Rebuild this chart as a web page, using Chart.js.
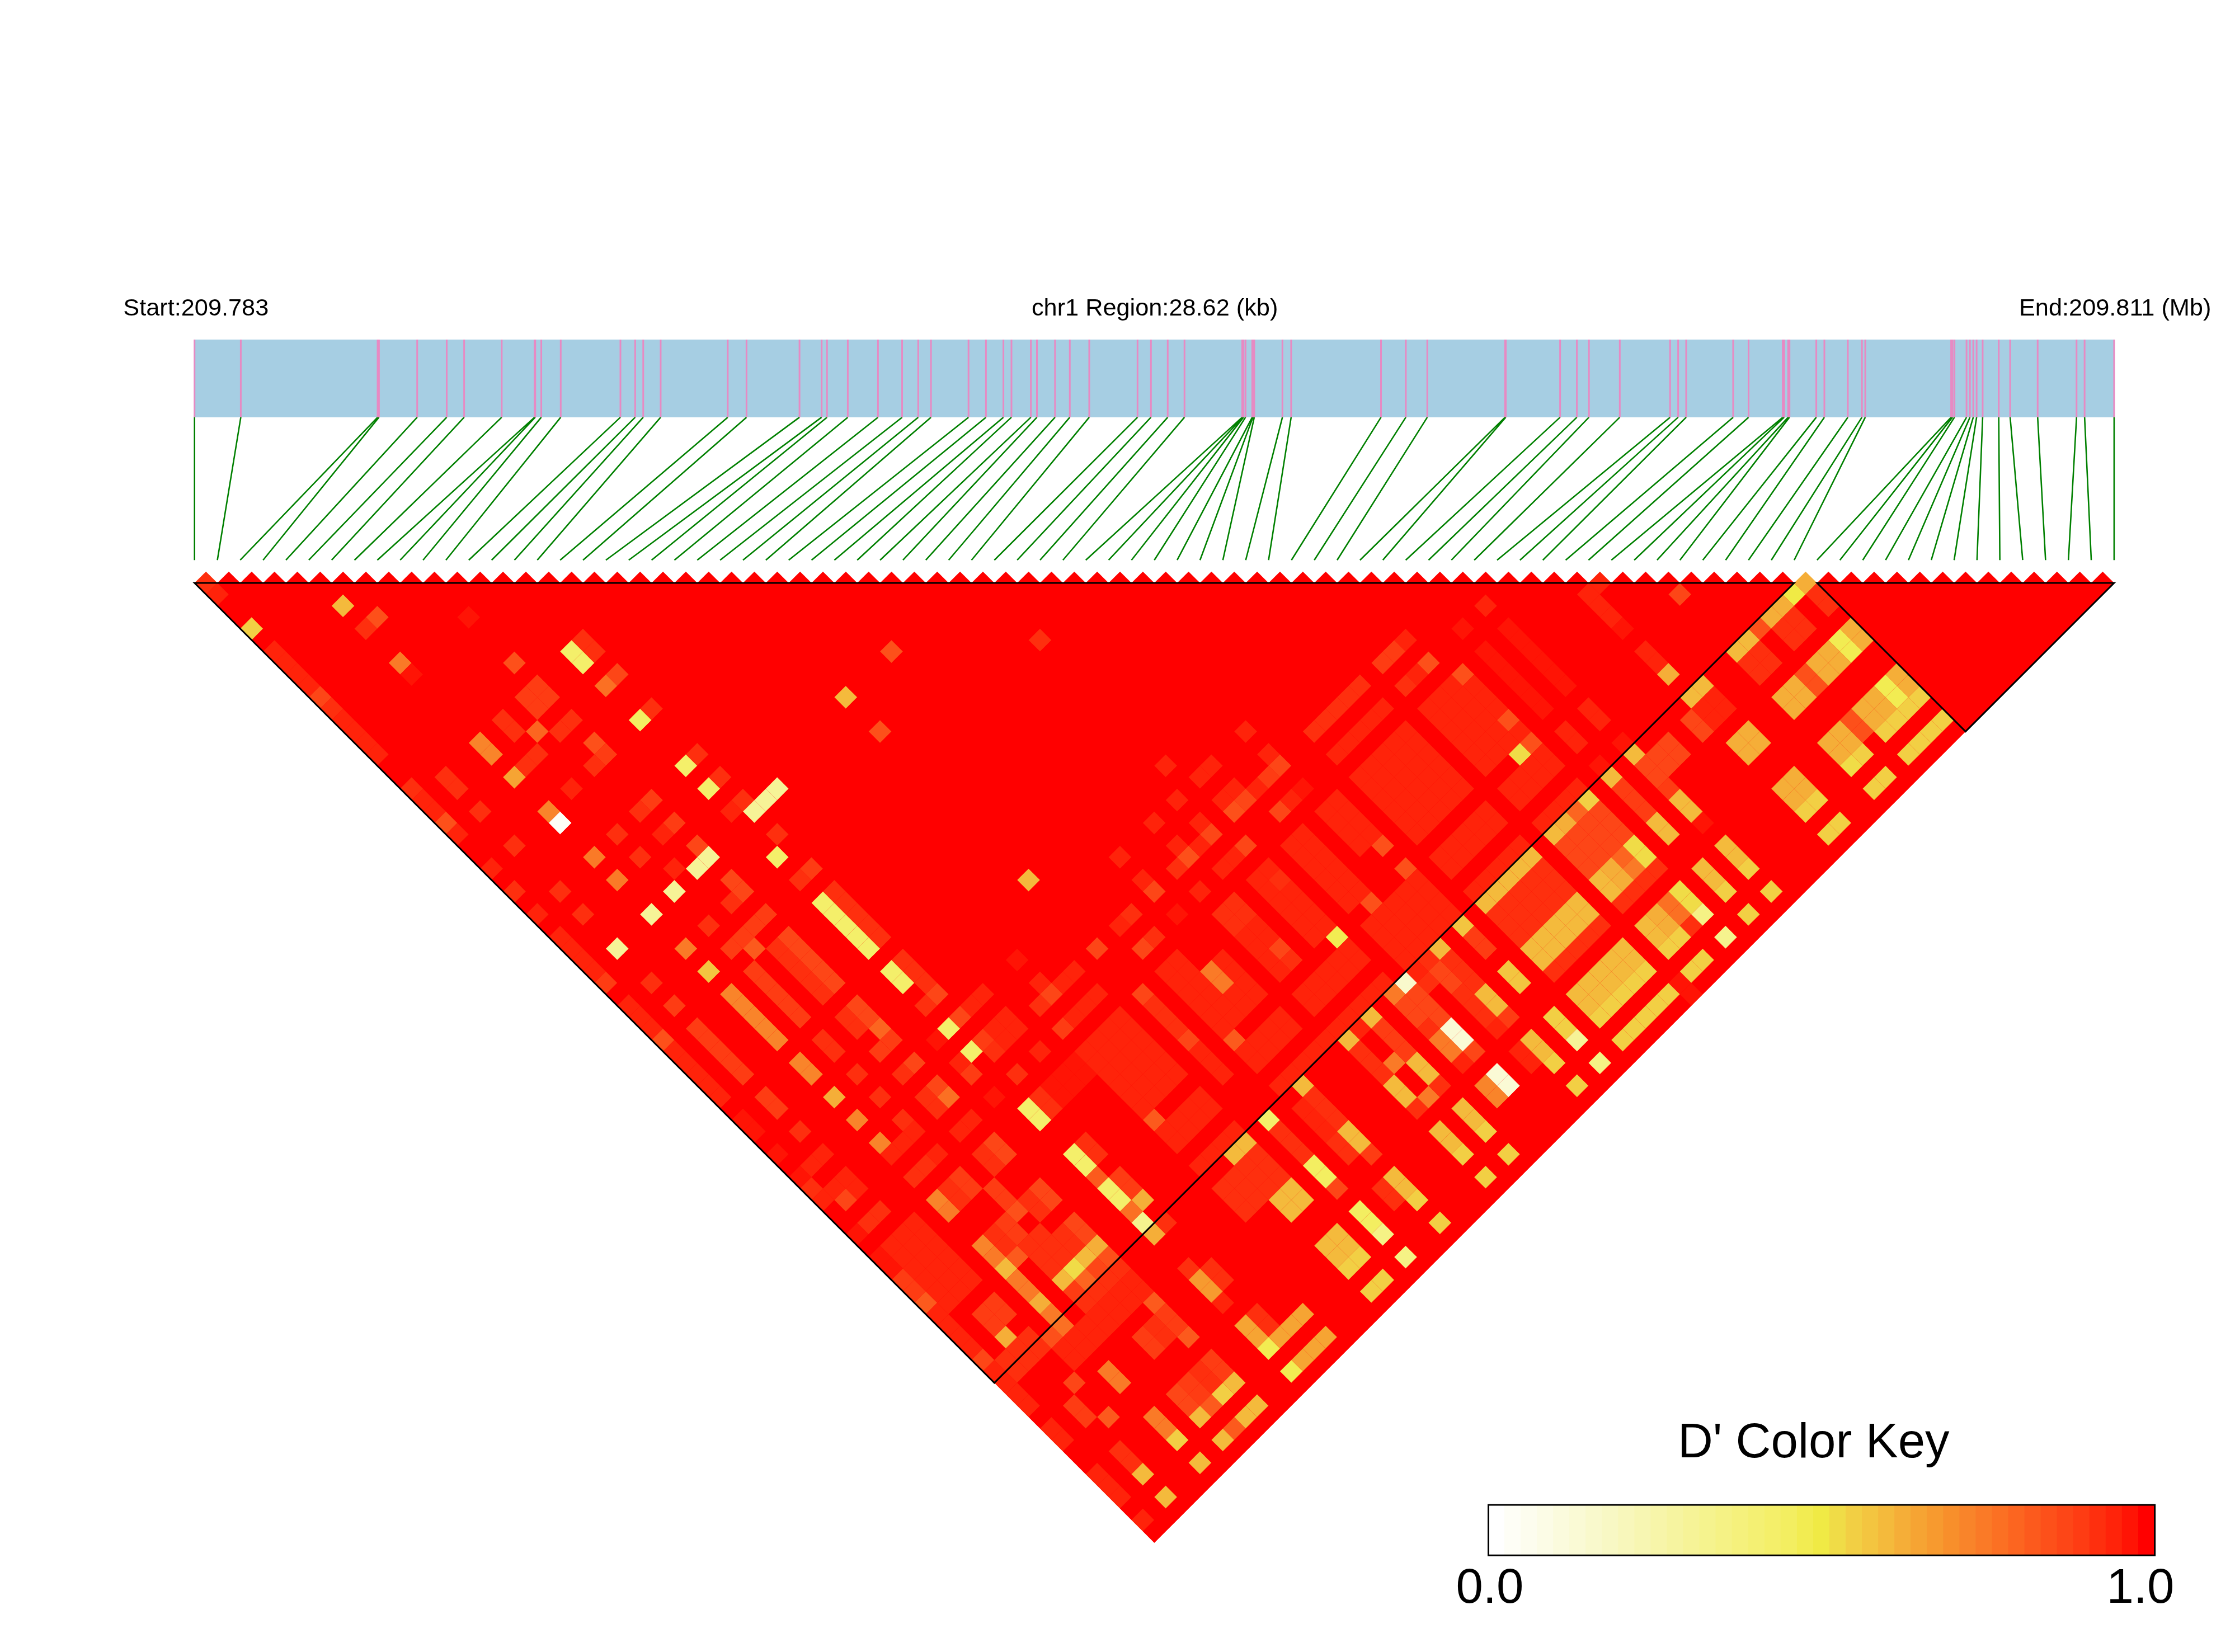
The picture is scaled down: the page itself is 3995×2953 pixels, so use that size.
<!DOCTYPE html>
<html>
<head>
<meta charset="utf-8">
<title>D' heatmap chr1</title>
<style>
  html, body { margin: 0; padding: 0; background: #ffffff; }
  canvas { display: block; }
</style>
<script src="https://cdn.jsdelivr.net/npm/chart.js@4/dist/chart.umd.min.js"></script>
</head>
<body>
<canvas id="ld-chart" width="3995" height="2953"></canvas>
<script>
const regionKb = 28.62;

// SNP positions along the region, kb from the start
const snpPositionsKb = [
  0, 0.69, 2.73, 2.75, 3.32, 3.76, 4.02, 4.58, 5.07, 5.08, 5.17, 5.46, 6.35, 6.57, 6.69, 6.95, 7.95,
  8.23, 9.02, 9.35, 9.43, 9.74, 10.19, 10.55, 10.79, 10.98, 11.54, 11.8, 12.06, 12.18, 12.47, 12.56,
  12.83, 13.05, 13.34, 14.06, 14.26, 14.51, 14.76, 15.62, 15.63, 15.64, 15.67, 15.77, 15.78, 15.8,
  16.22, 16.35, 17.69, 18.06, 18.38, 19.54, 19.55, 20.36, 20.61, 20.79, 21.25, 22, 22.12, 22.24,
  22.94, 23.17, 23.68, 23.7, 23.76, 23.78, 24.18, 24.3, 24.65, 24.86, 24.91, 26.19, 26.21,
  26.24, 26.42, 26.47, 26.52, 26.57, 26.66, 26.9, 27.07, 27.48, 28.06, 28.18, 28.62,
];

const keyColors = [
  "#ffffff", "#fefef6", "#fdfdee", "#fcfce6", "#fbfbdd", "#fafad5", "#f9f9cc", "#f8f8c4", "#f8f7bb",
  "#f7f6b2", "#f7f5a9", "#f6f4a0", "#f6f397", "#f5f38e", "#f5f285", "#f5f17c", "#f4f073", "#f4ef6a",
  "#f3ee61", "#f2ec52", "#f0ea45", "#f0dc47", "#f2cf44", "#f3c540", "#f4ba3c", "#f5ae38", "#f6a433",
  "#f79a2f", "#f88f2b", "#f9842a", "#fa7a27", "#fb7023", "#fc6520", "#fc5a1d", "#fd501a", "#fd4617",
  "#fe3c13", "#fe2f0e", "#ff230a", "#ff1405", "#ff0000",
];

// LD blocks as [first SNP, last SNP]
const ldBlocks = [[0, 70], [71, 84]];

// D' below 1, as [a from, a to, b from, b to, D'] for SNP pairs a < b; every other pair is 1
const firstColumn = [
  [0,0,1,1,.93],[0,0,2,2,.96],[0,0,5,5,.55],[0,0,7,7,.95],[0,0,8,10,.96],[0,0,11,11,.88],[0,0,12,12,.93],
  [0,0,13,16,.96],[0,0,19,19,.93],[0,0,20,21,.96],[0,0,22,22,.85],[0,0,23,23,.96],[0,0,26,26,.96],
  [0,0,28,28,.93],[0,0,30,30,.96],[0,0,32,35,.96],[0,0,36,36,.9],[0,0,38,38,.96],[0,0,39,39,.94],
  [0,0,40,40,.96],[0,0,41,41,.85],[0,0,42,46,.96],[0,0,48,49,.97],[0,0,51,51,.97],[0,0,53,53,.97],
  [0,0,54,54,.92],[0,0,55,55,.96],[0,0,58,58,.97],[0,0,60,61,.97],[0,0,62,63,.9],[0,0,64,64,.83],
  [0,0,65,68,.96],[0,0,69,69,.88],[0,0,70,73,.95],[0,0,75,76,.95],[0,0,79,81,.95],[0,0,83,83,.95],
];

const leftPatches = [
  [5,5,8,8,.6],[6,6,10,10,.85],[5,5,10,10,.93],[10,10,14,14,.98],[5,5,13,13,.75],[5,5,14,14,.98],
  [10,10,18,18,.85],[13,13,20,21,.42],[14,14,20,21,.93],[14,14,23,23,.88],[13,13,23,23,.78],
  [9,10,20,21,.91],[14,14,26,26,.93],[13,13,26,26,.45],[7,7,20,21,.93],[8,8,22,22,.8],[9,10,23,23,.93],
  [10,10,25,25,.85],[10,10,26,26,.9],[9,9,26,26,.93],[5,5,20,21,.73],[7,7,23,23,.93],[6,6,23,23,.93],
  [5,5,23,23,.65],[14,14,30,30,.93],[13,13,30,30,.42],[14,14,32,32,.93],[13,13,32,32,.42],
  [2,2,20,21,.93],[7,7,26,26,.94],[2,2,23,23,.93],[5,5,26,26,.73],[5,5,27,27,.03],[10,10,30,30,.9],
  [9,9,30,30,.93],[10,10,32,32,.9],[9,9,32,32,.95],[14,14,34,34,.93],[13,13,34,34,.96],[14,16,35,35,.3],
  [7,7,30,30,.93],[14,14,37,37,.93],[13,13,38,38,.42],[2,2,26,26,.92],[5,5,30,30,.75],[7,7,32,32,.93],
  [10,10,34,34,.87],[9,10,35,35,.3],[8,8,34,34,.96],[5,5,32,32,.75],[10,10,37,38,.88],[9,9,38,38,.93],
  [7,7,35,35,.3],[2,2,30,30,.93],[2,2,32,32,.93],[5,5,35,35,.3],[7,7,38,38,.93],[7,10,40,40,.9],
  [9,9,42,42,.93],[8,8,41,41,.83],[2,2,35,35,.3],[5,5,38,38,.75],[5,5,40,40,.58],[2,2,38,38,.93],
  [2,2,40,40,.9],[5,5,42,46,.73],[7,7,42,46,.9],[2,2,42,46,.9],[9,9,42,46,.92],[10,10,42,46,.87],
  [13,13,42,46,.42],[14,14,42,46,.93],[13,13,48,49,.42],[14,14,48,50,.93],[14,14,51,51,.88],
  [13,13,51,51,.93],[14,14,40,40,.9],[13,13,40,40,.93],[2,2,48,49,.9],[2,2,51,51,.92],[5,5,48,49,.73],
  [5,5,51,51,.62],[5,5,53,53,.73],[5,5,55,55,.73],[7,7,48,49,.92],[7,7,51,51,.92],[7,7,53,53,.93],
  [7,7,55,55,.93],[5,7,56,56,.94],[5,5,58,58,.93],[6,6,58,58,.92],[7,7,58,58,.94],[10,10,48,49,.88],
  [10,10,50,50,.8],[9,9,48,49,.93],[9,10,51,51,.9],[10,10,53,53,.88],[9,9,53,53,.93],[10,10,55,55,.88],
  [9,9,55,55,.93],[10,10,56,56,.78],[9,9,56,56,.92],[1,2,53,53,.94],[1,2,55,55,.94],[2,2,56,56,.94],
  [1,1,56,56,.88],[1,2,58,58,.93],[5,5,60,60,.72],[5,5,61,61,.75],[1,3,60,61,.95],[1,3,62,63,.95],
  [1,3,64,65,.95],[13,13,53,53,.42],[12,12,53,53,.97],[14,14,53,53,.88],[15,16,53,53,.96],
  [13,13,55,55,.42],[14,14,55,55,.9],[12,12,55,55,.96],[12,12,56,56,.9],[15,16,55,55,.95],[16,16,56,56,.96],
  [15,15,56,56,.95],[14,14,56,56,.93],[19,19,53,53,.97],[19,19,55,55,.94],[19,19,56,56,.88],
  [18,18,56,56,.93],[20,21,56,56,.94],[18,18,58,58,.9],[19,21,58,58,.95],[10,10,58,58,.94],[9,9,58,58,.95],
  [12,12,58,58,.97],[14,14,58,58,.93],[16,16,58,58,.96],[10,10,60,61,.88],[9,9,60,61,.92],[7,7,60,61,.9],
  [6,6,60,61,.93],[13,13,60,61,.42],[14,14,60,61,.93],[15,17,60,61,.97],[8,8,62,63,.9],[8,8,64,64,.85],
  [10,10,64,65,.87],[9,9,64,65,.92],[7,7,64,65,.9],[6,6,64,65,.93],[5,5,64,64,.72],[5,5,65,65,.74],
  [5,5,66,66,.6],[6,6,66,66,.82],[7,8,66,66,.92],[13,13,64,65,.42],[14,14,64,65,.92],[13,13,66,66,.82],
  [13,13,67,68,.42],[14,14,67,68,.91],[14,14,69,69,.62],[13,13,69,69,.78],[13,13,70,70,.32],
  [10,10,67,68,.87],[9,9,67,68,.92],[7,8,67,68,.92],[5,5,67,68,.75],[2,3,67,68,.91],[10,10,69,69,.62],
  [9,9,69,69,.6],[8,8,69,69,.52],[7,7,69,69,.6],[5,5,69,69,.62],[2,2,69,69,.62],[5,5,70,70,.75],
  [10,10,70,70,.85],[9,9,70,70,.88],[8,8,70,70,.8],[7,7,70,70,.9],[1,3,70,71,.93],[4,4,71,71,.85],
  [5,5,71,71,.78],[7,10,71,71,.93],[13,13,71,71,.62],[14,14,71,71,.93],[4,10,72,73,.94],[3,3,74,74,.88],
  [10,10,74,74,.83],[18,21,72,74,.92],[5,5,75,76,.75],[2,2,75,76,.9],[3,3,77,77,.82],[10,10,75,76,.9],
  [9,9,75,76,.93],[8,8,75,76,.9],[10,10,77,77,.82],[13,13,75,76,.68],[14,14,75,76,.92],[13,13,74,74,.93],
  [13,13,77,77,.95],[5,5,79,80,.75],[5,5,81,81,.55],[2,2,79,80,.93],[2,2,81,81,.6],[2,2,83,83,.6],
  [5,5,83,83,.6],[7,7,79,80,.88],[7,7,81,81,.6],[7,7,83,83,.6],[8,8,79,80,.9],[8,8,81,81,.83],
  [8,8,83,83,.83],[9,9,79,80,.92],[9,9,81,81,.55],[9,9,83,83,.6],[10,10,79,80,.9],[10,10,81,81,.6],
  [10,10,83,83,.6],[13,13,79,80,.65],[13,13,81,81,.48],[14,16,81,81,.65],[13,13,83,83,.48],
  [14,16,83,83,.65],[14,14,79,80,.92],
];

const middlePatches = [
  [27,27,34,34,.85],[34,34,40,40,.93],[23,23,34,34,.6],[23,23,37,37,.85],[42,46,56,56,.93],[42,46,58,58,.96],
  [48,48,56,56,.9],[49,49,56,56,.9],[50,50,56,56,.96],[39,39,53,53,.96],[34,34,51,51,.96],[35,36,53,53,.94],
  [39,39,55,55,.96],[39,39,56,56,.87],[38,38,56,56,.9],[37,37,56,56,.95],[39,39,58,58,.97],[38,38,58,58,.95],
  [37,37,58,58,.88],[36,36,55,55,.94],[36,36,56,56,.88],[35,35,56,56,.85],[35,35,55,55,.95],[33,33,53,53,.95],
  [31,31,53,53,.96],[33,33,55,55,.95],[33,33,56,56,.87],[32,32,56,56,.95],[31,31,55,55,.95],[31,31,56,56,.85],
  [30,30,56,56,.93],[34,34,58,58,.87],[33,33,58,58,.95],[32,32,58,58,.95],[28,28,53,53,.95],[30,30,58,58,.95],
  [28,28,55,55,.95],[28,28,56,56,.88],[23,23,50,50,.6],[26,26,56,56,.92],[25,25,56,56,.95],[28,28,58,58,.97],
  [26,26,58,58,.93],[25,25,58,58,.88],[23,23,56,56,.88],[23,23,60,60,.88],[23,23,61,63,.93],[23,23,64,64,.87],
  [23,23,65,67,.94],[18,21,60,61,.96],[18,21,62,65,.96],[18,18,66,66,.82],[18,21,67,68,.96],[18,21,70,70,.96],
  [25,26,60,61,.96],[25,28,62,65,.95],[25,25,66,66,.83],[25,28,67,68,.96],[25,34,70,70,.96],[30,31,60,61,.93],
  [30,31,62,65,.95],[33,34,60,61,.95],[33,34,62,65,.95],[31,31,64,64,.87],[34,34,61,61,.93],[31,31,65,65,.92],
  [34,34,66,66,.47],[37,37,66,66,.85],[40,40,64,64,.85],[40,40,62,62,.9],[40,40,66,66,.85],[40,40,69,69,.6],
  [36,37,60,65,.95],[39,40,60,63,.95],[36,40,67,70,.95],[30,34,67,68,.95],[27,27,62,62,.75],[27,27,63,63,.75],
  [42,46,60,65,.96],[42,46,67,68,.96],[42,46,70,70,.96],[48,51,60,65,.96],[51,51,60,60,.85],[51,51,64,64,.85],
  [51,51,66,66,.85],[50,50,66,66,.52],[48,51,67,68,.95],[48,51,70,70,.95],[46,46,56,56,.93],
  [60,60,62,63,.95],[61,61,62,62,.95],[60,60,64,64,.95],[60,60,65,65,.97],[64,64,66,66,.88],[55,55,58,58,.95],
  [53,53,58,58,.97],[55,55,60,65,.97],[53,53,60,65,.97],[50,50,58,58,.86],[49,49,58,58,.95],[48,48,58,58,.93],
  [55,55,67,68,.96],[53,53,67,68,.96],[55,55,70,70,.97],[53,53,70,70,.97],[60,60,67,68,.95],[60,60,69,69,.62],
];

const rightPatches = [
  [70,70,71,71,.62],[69,69,71,71,.5],[67,68,71,71,.62],[66,66,71,71,.85],[64,65,71,71,.6],[60,61,71,71,.6],
  [55,55,71,71,.6],[53,53,71,71,.6],[51,51,71,71,.55],[50,50,71,71,.8],[49,49,71,71,.62],[48,48,71,71,.6],
  [42,46,71,71,.6],[70,70,72,73,.93],[67,68,72,73,.93],[64,65,72,73,.93],[70,70,75,76,.62],[69,69,75,76,.48],
  [67,68,75,76,.62],[66,66,75,76,.85],[64,65,75,76,.62],[70,70,79,80,.62],[69,69,79,80,.48],[67,68,79,80,.62],
  [66,66,79,80,.85],[64,65,79,80,.62],[70,70,81,81,.55],[67,69,81,81,.55],[65,65,81,81,.55],[64,64,81,81,.52],
  [67,70,83,83,.55],[64,65,83,83,.55],[60,61,75,76,.62],[60,61,79,80,.62],[60,61,81,81,.55],[60,61,83,83,.55],
  [59,59,72,73,.88],[60,61,72,73,.95],[55,57,72,73,.87],[53,53,72,74,.9],[55,55,74,74,.9],[48,51,72,74,.88],
  [42,46,72,74,.92],[55,55,75,76,.6],[53,53,75,76,.6],[51,51,75,76,.52],[50,50,75,75,.8],[50,50,76,76,.75],
  [49,49,75,76,.62],[48,48,75,76,.6],[55,55,79,80,.6],[55,55,81,81,.55],[55,55,83,83,.55],[53,53,79,80,.6],
  [53,53,81,81,.55],[53,53,83,83,.55],[51,51,79,80,.52],[51,51,81,81,.35],[51,51,83,83,.33],[50,50,79,80,.78],
  [50,50,81,81,.93],[49,49,79,80,.62],[48,48,79,80,.6],[48,49,81,81,.55],[48,49,83,83,.55],[42,46,75,76,.6],
  [42,46,77,77,.92],[48,51,77,77,.93],[55,55,77,77,.97],[42,46,79,80,.6],[42,46,81,81,.55],[42,46,83,83,.55],
  [47,47,83,84,.98],[40,40,71,71,.57],[40,40,72,73,.9],[40,40,75,76,.57],[40,40,79,80,.55],[40,40,81,81,.3],
  [40,40,83,83,.35],[38,38,71,71,.6],[38,38,72,74,.93],[38,38,75,76,.6],[38,38,77,77,.9],[38,38,79,80,.6],
  [38,38,81,81,.55],[38,38,83,83,.55],[37,37,71,71,.93],[37,37,72,73,.88],[37,37,74,76,.93],[37,37,77,77,.96],
  [37,37,79,80,.95],[36,36,71,71,.95],[36,36,72,72,.92],[35,35,71,71,.15],[35,35,72,74,.88],[35,35,75,76,.12],
  [35,35,77,77,.88],[35,35,79,80,.12],[34,34,71,71,.75],[34,34,72,73,.88],[34,34,74,74,.92],[34,34,75,76,.75],
  [34,34,77,77,.96],[34,34,79,80,.73],[32,32,71,71,.6],[32,32,72,74,.9],[32,32,75,76,.6],[32,32,77,77,.92],
  [32,32,79,80,.6],[32,32,81,81,.55],[32,32,83,83,.55],[31,31,71,71,.96],[31,31,74,74,.75],[31,31,77,77,.75],
  [30,30,71,71,.6],[30,30,72,74,.92],[30,30,75,76,.6],[30,30,77,77,.92],[30,30,79,80,.6],[30,30,81,81,.55],
  [30,30,83,83,.55],[26,26,71,71,.6],[26,26,72,74,.92],[26,26,75,76,.6],[26,26,77,77,.9],[26,26,79,80,.6],
  [26,26,81,81,.55],[26,26,83,83,.55],[25,25,72,74,.96],[25,25,75,76,.93],[25,25,79,80,.93],[23,23,71,71,.42],
  [23,23,72,74,.93],[23,23,75,76,.45],[23,23,77,77,.88],[23,23,79,80,.45],[23,23,81,81,.35],[23,23,83,83,.35],
  [20,21,71,71,.6],[20,21,75,76,.6],[20,21,79,80,.6],[20,21,81,81,.55],[20,21,83,83,.55],
];

const ldPatches = [...firstColumn, ...leftPatches, ...middlePatches, ...rightPatches];

const snpCount = snpPositionsKb.length;

// figure layout, in units of one SNP step
const trackTop = -10.65;
const trackBottom = -7.25;
const stemBottom = -1;
const keyLeft = 56.62;
const keyRight = 85.78;
const keyTop = 40.34;
const keyBottom = 42.55;

const figureLabels = [
  { text: "Start:209.783", x: -3.12, y: -11.7, size: 43.3, align: "left" },
  { text: "chr1 Region:28.62 (kb)", x: 42.02, y: -11.7, size: 43.3, align: "center" },
  { text: "End:209.811 (Mb)", x: 79.84, y: -11.7, size: 43.3, align: "left" },
  { text: "D' Color Key", x: 70.85, y: 38.26, size: 87, align: "center" },
  { text: "0.0", x: 56.68, y: 44.63, size: 87, align: "center" },
  { text: "1.0", x: 85.15, y: 44.63, size: 87, align: "center" },
];

function kbToIndex(kb) {
  return (kb / regionKb) * (snpCount - 1);
}

function colorForValue(value) {
  return keyColors[Math.round(value * (keyColors.length - 1))];
}

function buildCells() {
  const values = new Map();
  ldPatches.forEach(([aFrom, aTo, bFrom, bTo, value]) => {
    for (let a = aFrom; a <= aTo; a += 1) {
      for (let b = bFrom; b <= bTo; b += 1) {
        values.set(`${a}-${b}`, value);
      }
    }
  });
  const cells = [];
  for (let a = 0; a < snpCount - 1; a += 1) {
    for (let b = a + 1; b < snpCount; b += 1) {
      const key = `${a}-${b}`;
      cells.push({ x: (a + b) / 2, y: (b - a - 1) / 2, value: values.has(key) ? values.get(key) : 1 });
    }
  }
  return cells;
}

function blockOutline([first, last]) {
  const mid = (first + last) / 2;
  return [
    { x: first, y: 0 },
    { x: last, y: 0 },
    { x: mid, y: (last - first) / 2 },
    { x: first, y: 0 },
    { x: last, y: 0 },
  ];
}

function stepPixels(chart) {
  const scale = chart.scales.x;
  return scale.getPixelForValue(1) - scale.getPixelForValue(0);
}

const figureText = {
  id: "figureText",
  afterDraw(chart) {
    const { ctx, scales } = chart;
    ctx.save();
    ctx.fillStyle = "#000000";
    ctx.textBaseline = "alphabetic";
    figureLabels.forEach((label) => {
      ctx.font = `${label.size}px "Liberation Sans", Arial, sans-serif`;
      ctx.textAlign = label.align;
      ctx.fillText(label.text, scales.x.getPixelForValue(label.x), scales.y.getPixelForValue(label.y));
    });
    ctx.restore();
  },
};

const cells = buildCells();
const keyStep = (keyRight - keyLeft) / keyColors.length;

new Chart(document.getElementById("ld-chart"), {
  type: "scatter",
  data: {
    datasets: [
      ...ldBlocks.map((block) => ({
        type: "line",
        data: blockOutline(block),
        borderColor: "#000000",
        borderWidth: 3,
        pointRadius: 0,
        fill: false,
        order: 0,
      })),
      {
        type: "line",
        data: [
          { x: keyLeft, y: keyTop },
          { x: keyRight, y: keyTop },
          { x: keyRight, y: keyBottom },
          { x: keyLeft, y: keyBottom },
          { x: keyLeft, y: keyTop },
          { x: keyRight, y: keyTop },
        ],
        borderColor: "#000000",
        borderWidth: 3,
        pointRadius: 0,
        fill: false,
        order: 0,
      },
      {
        type: "bar",
        data: keyColors.map((color, index) => ({
          x: keyLeft + (index + 0.5) * keyStep,
          y: [keyTop, keyBottom],
        })),
        backgroundColor: keyColors,
        barThickness: 29.6,
        order: 1,
      },
      {
        type: "scatter",
        data: cells,
        pointStyle: "rectRot",
        pointRadius: (context) => stepPixels(context.chart) / 2,
        pointBackgroundColor: cells.map((cell) => colorForValue(cell.value)),
        pointBorderWidth: 0,
        order: 1,
      },
      {
        type: "line",
        data: [
          { x: 0, y: 0 },
          { x: snpCount - 1, y: 0 },
          { x: (snpCount - 1) / 2, y: (snpCount - 1) / 2 },
        ],
        backgroundColor: "#ff0000",
        borderWidth: 0,
        pointRadius: 0,
        fill: "shape",
        order: 2,
      },
      {
        type: "line",
        data: snpPositionsKb.flatMap((kb) => [
          { x: kbToIndex(kb), y: trackTop },
          { x: kbToIndex(kb), y: trackBottom },
          { x: kbToIndex(kb), y: null },
        ]),
        borderColor: "#e78ac3",
        borderWidth: 3,
        pointRadius: 0,
        spanGaps: false,
        fill: false,
        order: 1,
      },
      {
        type: "line",
        data: [
          { x: 0, y: trackTop },
          { x: snpCount - 1, y: trackTop },
          { x: snpCount - 1, y: trackBottom },
          { x: 0, y: trackBottom },
        ],
        backgroundColor: "#a6cee3",
        borderWidth: 0,
        pointRadius: 0,
        fill: "shape",
        order: 2,
      },
      {
        type: "line",
        data: snpPositionsKb.flatMap((kb, index) => [
          { x: kbToIndex(kb), y: trackBottom },
          { x: index, y: stemBottom },
          { x: index, y: null },
        ]),
        borderColor: "#008000",
        borderWidth: 2.6,
        pointRadius: 0,
        spanGaps: false,
        fill: false,
        order: 1,
      },
    ],
  },
  options: {
    responsive: false,
    devicePixelRatio: 1,
    animation: false,
    events: [],
    layout: { padding: 0 },
    plugins: {
      legend: { display: false },
      tooltip: { enabled: false },
    },
    scales: {
      x: { type: "linear", display: false, offset: false, min: -8.512, max: 89.29 },
      y: { type: "linear", display: false, reverse: true, min: -25.51, max: 46.78 },
    },
  },
  plugins: [figureText],
});
</script>
</body>
</html>
